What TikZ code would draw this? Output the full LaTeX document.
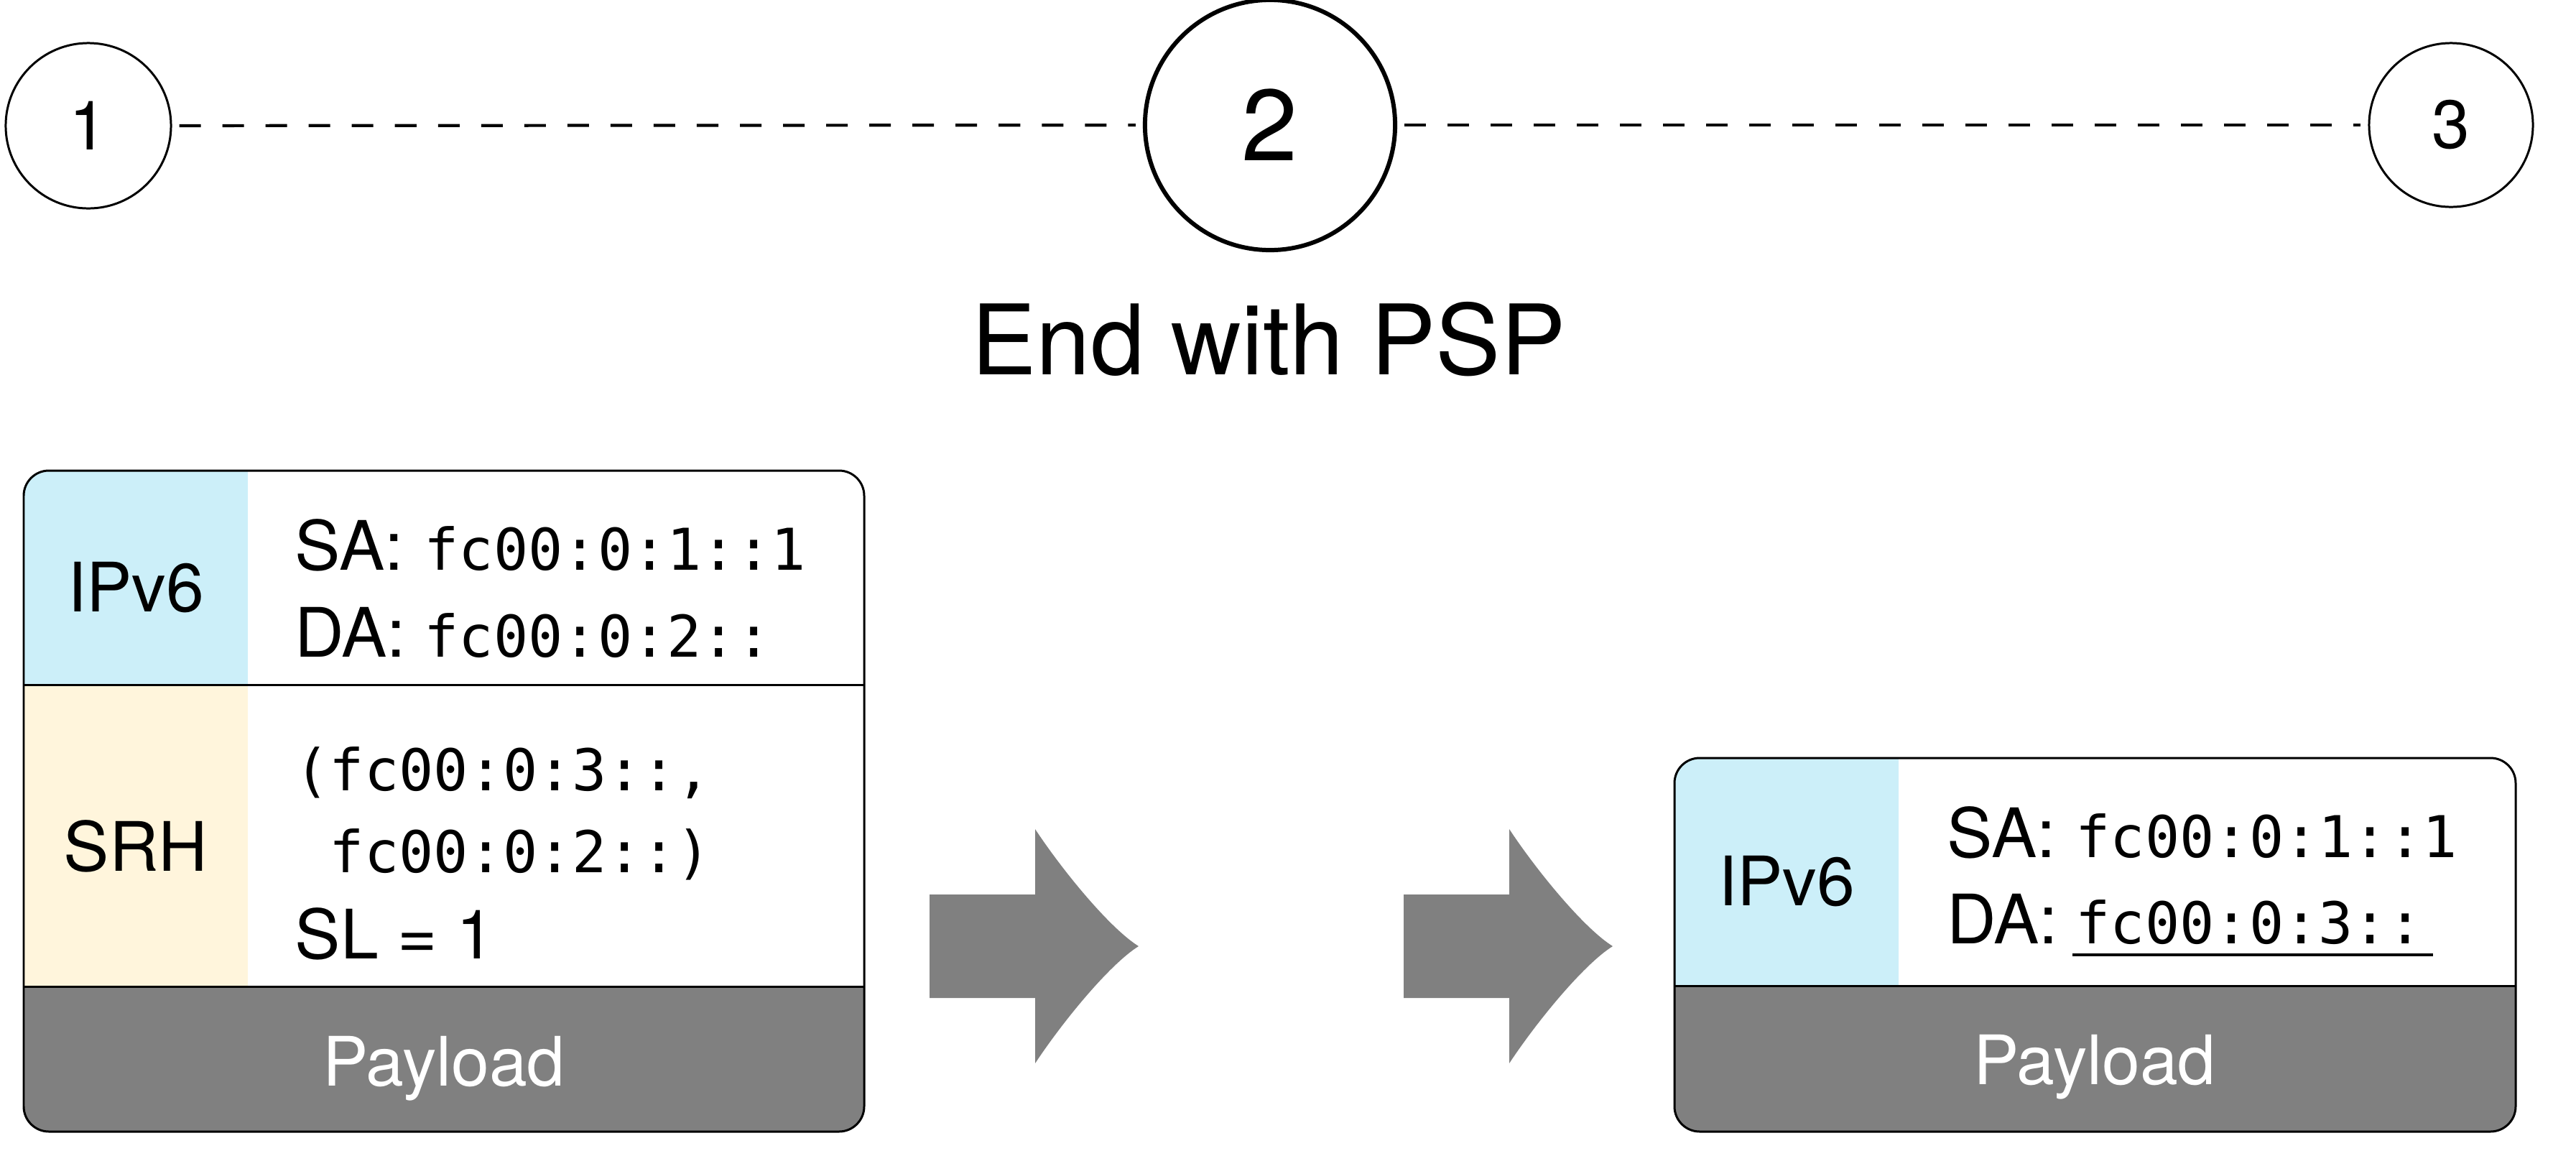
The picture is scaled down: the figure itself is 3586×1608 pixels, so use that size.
\documentclass[tikz,border=0pt]{standalone}
\usepackage{fontspec}
\setmainfont{TeX Gyre Heros}
\setmonofont{DejaVu Sans Mono}
\definecolor{ipblue}{HTML}{CCEFF9}
\definecolor{srhyellow}{HTML}{FFF5DC}
\definecolor{paygray}{HTML}{808080}
\begin{document}
\begin{tikzpicture}[x=0.01cm,y=-0.01cm,
  sans/.style={font=\fontsize{27}{32}\selectfont, inner sep=0},
  mono/.style={font=\fontsize{22.8}{27}\selectfont\ttfamily, inner sep=0},
  paytext/.style={sans, text=white, anchor=base},
  hop/.style={circle, draw, line width=0.85pt, inner sep=0, font=\fontsize{27}{32}\selectfont},
  link/.style={dashed, dash pattern=on 0.3cm off 0.3cm, line width=1.2pt, shorten <=0.1cm, shorten >=0.1cm},
  frame/.style={line width=0.85pt},
  bigarrow/.style={fill=paygray}
]
\useasboundingbox (0,0) rectangle (3586,1608);

% top timeline
\node[hop, minimum size=2.3cm] (n1) at (123,175) {1};
\node[hop, minimum size=3.48cm, line width=1.7pt, font=\fontsize{40}{46}\selectfont] (n2) at (1768,174) {2};
\node[hop, minimum size=2.28cm] (n3) at (3412,174) {3};
\draw[link] (n1) -- (n2);
\draw[link] (n2) -- (n3);
\node[font=\fontsize{38.5}{44}\selectfont, inner sep=0, anchor=base] (title) at (1766,521) {End with PSP};

% left packet
\begin{scope}
  \clip[rounded corners=0.35cm] (33,655) rectangle (1203,1575);
  \fill[white] (33,655) rectangle (1203,1575);
  \fill[ipblue] (33,655) rectangle (345,953);
  \fill[srhyellow] (33,953) rectangle (345,1373);
  \fill[paygray] (33,1373) rectangle (1203,1575);
\end{scope}
\draw[frame] (33,953) -- (1203,953);
\draw[frame] (33,1373) -- (1203,1373);
\draw[frame, rounded corners=0.35cm] (33,655) rectangle (1203,1575);

\node[sans, anchor=base] (lip) at (189,851) {IPv6};
\node[sans, anchor=base] (lsrh) at (189,1212) {SRH};
\node[sans, anchor=base west] (lsa) at (410,793) {SA:};
\node[mono, anchor=base west] (lsav) at (590,793) {fc00:0:1::1};
\node[sans, anchor=base west] (lda) at (410,914) {DA:};
\node[mono, anchor=base west] (ldav) at (590,914) {fc00:0:2::};
\node[mono, anchor=base west] (lseg1) at (410,1100) {(fc00:0:3::,};
\node[mono, anchor=base west] (lseg2) at (410,1214) {\phantom{(}fc00:0:2::)};
\node[sans, anchor=base west] (lsl) at (410,1334) {SL = 1};
\node[paytext] (lpay) at (618,1511) {Payload};

% arrows
\fill[bigarrow] (1294,1245) -- (1441,1245) -- (1441,1154)
  .. controls (1480,1213) and (1545,1292) .. (1585,1317)
  .. controls (1545,1342) and (1480,1421) .. (1441,1480)
  -- (1441,1389) -- (1294,1389) -- cycle;
\fill[bigarrow] (1954,1245) -- (2101,1245) -- (2101,1154)
  .. controls (2140,1213) and (2205,1292) .. (2245,1317)
  .. controls (2205,1342) and (2140,1421) .. (2101,1480)
  -- (2101,1389) -- (1954,1389) -- cycle;

% right packet
\begin{scope}
  \clip[rounded corners=0.35cm] (2331,1055) rectangle (3502,1575);
  \fill[white] (2331,1055) rectangle (3502,1575);
  \fill[ipblue] (2331,1055) rectangle (2643,1372);
  \fill[paygray] (2331,1372) rectangle (3502,1575);
\end{scope}
\draw[frame] (2331,1372) -- (3502,1372);
\draw[frame, rounded corners=0.35cm] (2331,1055) rectangle (3502,1575);

\node[sans, anchor=base] (rip) at (2487,1260) {IPv6};
\node[sans, anchor=base west] (rsa) at (2710,1193) {SA:};
\node[mono, anchor=base west] (rsav) at (2889,1193) {fc00:0:1::1};
\node[sans, anchor=base west] (rda) at (2710,1313) {DA:};
\node[mono, anchor=base west] (rdav) at (2889,1313) {fc00:0:3::};
\draw[line width=1.1pt] (2885,1329) -- (3387,1329);
\node[paytext] (rpay) at (2916,1509) {Payload};
\end{tikzpicture}
\end{document}
